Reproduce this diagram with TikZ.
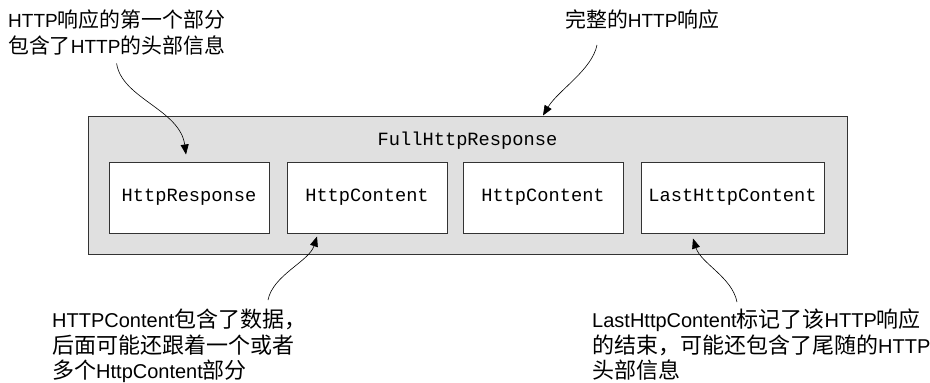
\documentclass[tikz,border=0pt]{standalone}
\usepackage{fontspec}
\setmainfont{Liberation Sans}
\setmonofont{Liberation Mono}
\newfontfamily\cjk[Scale=1.1]{Noto Sans CJK SC}
\usetikzlibrary{arrows.meta}
\definecolor{boxgray}{HTML}{E0E0E0}
\definecolor{linegray}{HTML}{333333}
\newcommand{\zh}[1]{{\cjk #1}}

\begin{document}
\begin{tikzpicture}[x=1pt, y=-1pt,
    outer/.style={rectangle, draw=linegray, fill=boxgray, line width=1pt,
                  minimum width=759pt, minimum height=138pt},
    code/.style={font=\ttfamily\fontsize{18.7}{20}\selectfont},
    part/.style={rectangle, draw=linegray, fill=white, line width=1pt, code,
                 minimum width=#1, minimum height=71pt},
    part/.default=160pt,
    note/.style={anchor=north west, inner sep=0pt, align=left,
                 font=\fontsize{#1}{25.5}\selectfont},
    note/.default=20,
    pointer/.style={-{Triangle[length=10pt, width=8pt]}, line width=0.6pt, color=black}
]
\useasboundingbox (0,0) rectangle (930,383);

\node[outer] (full) at (467.5,185) {};
\node[code] (fulltitle) at (467.5,141) {FullHttpResponse};
\node[part] (resp) at (189,197.5) {HttpResponse};
\node[part] (cont1) at (367,197.5) {HttpContent};
\node[part] (cont2) at (543,197.5) {HttpContent};
\node[part=183pt] (last) at (732.5,197.5) {LastHttpContent};

\node[note=19] (headnote) at (8,10) {HTTP\zh{响应的第一个部分}\\\zh{包含了}HTTP\zh{的头部信息}};
\node[note=19] (fullnote) at (565,10) {\zh{完整的}HTTP\zh{响应}};
\node[note] (contnote) at (52,309) {HTTPContent\zh{包含了数据，}\\\zh{后面可能还跟着一个或者}\\\zh{多个}HttpContent\zh{部分}};
\node[note] (lastnote) at (592,309) {LastHttpContent\zh{标记了该}HTTP\zh{响应}\\\zh{的结束，可能还包含了尾随的}HTTP\\\zh{头部信息}};

\draw[pointer] ([yshift=-8pt]headnote.south) .. controls +(5,35) and +(-6,-45) .. ([xshift=-3pt,yshift=7pt]resp.north);
\draw[pointer] ([xshift=32pt,yshift=-15pt]fullnote.south west) .. controls +(-5,25) and +(15,-25) .. (full.north -| cont2);
\draw[pointer] ([xshift=216pt,yshift=9pt]contnote.north west) .. controls +(5,-25) and +(-8,25) .. ([xshift=-50pt,yshift=-3pt]cont1.south);
\draw[pointer] ([xshift=145pt,yshift=7pt]lastnote.north west) .. controls +(-5,-25) and +(8,25) .. ([xshift=-39.5pt,yshift=-5pt]last.south);
\end{tikzpicture}
\end{document}
